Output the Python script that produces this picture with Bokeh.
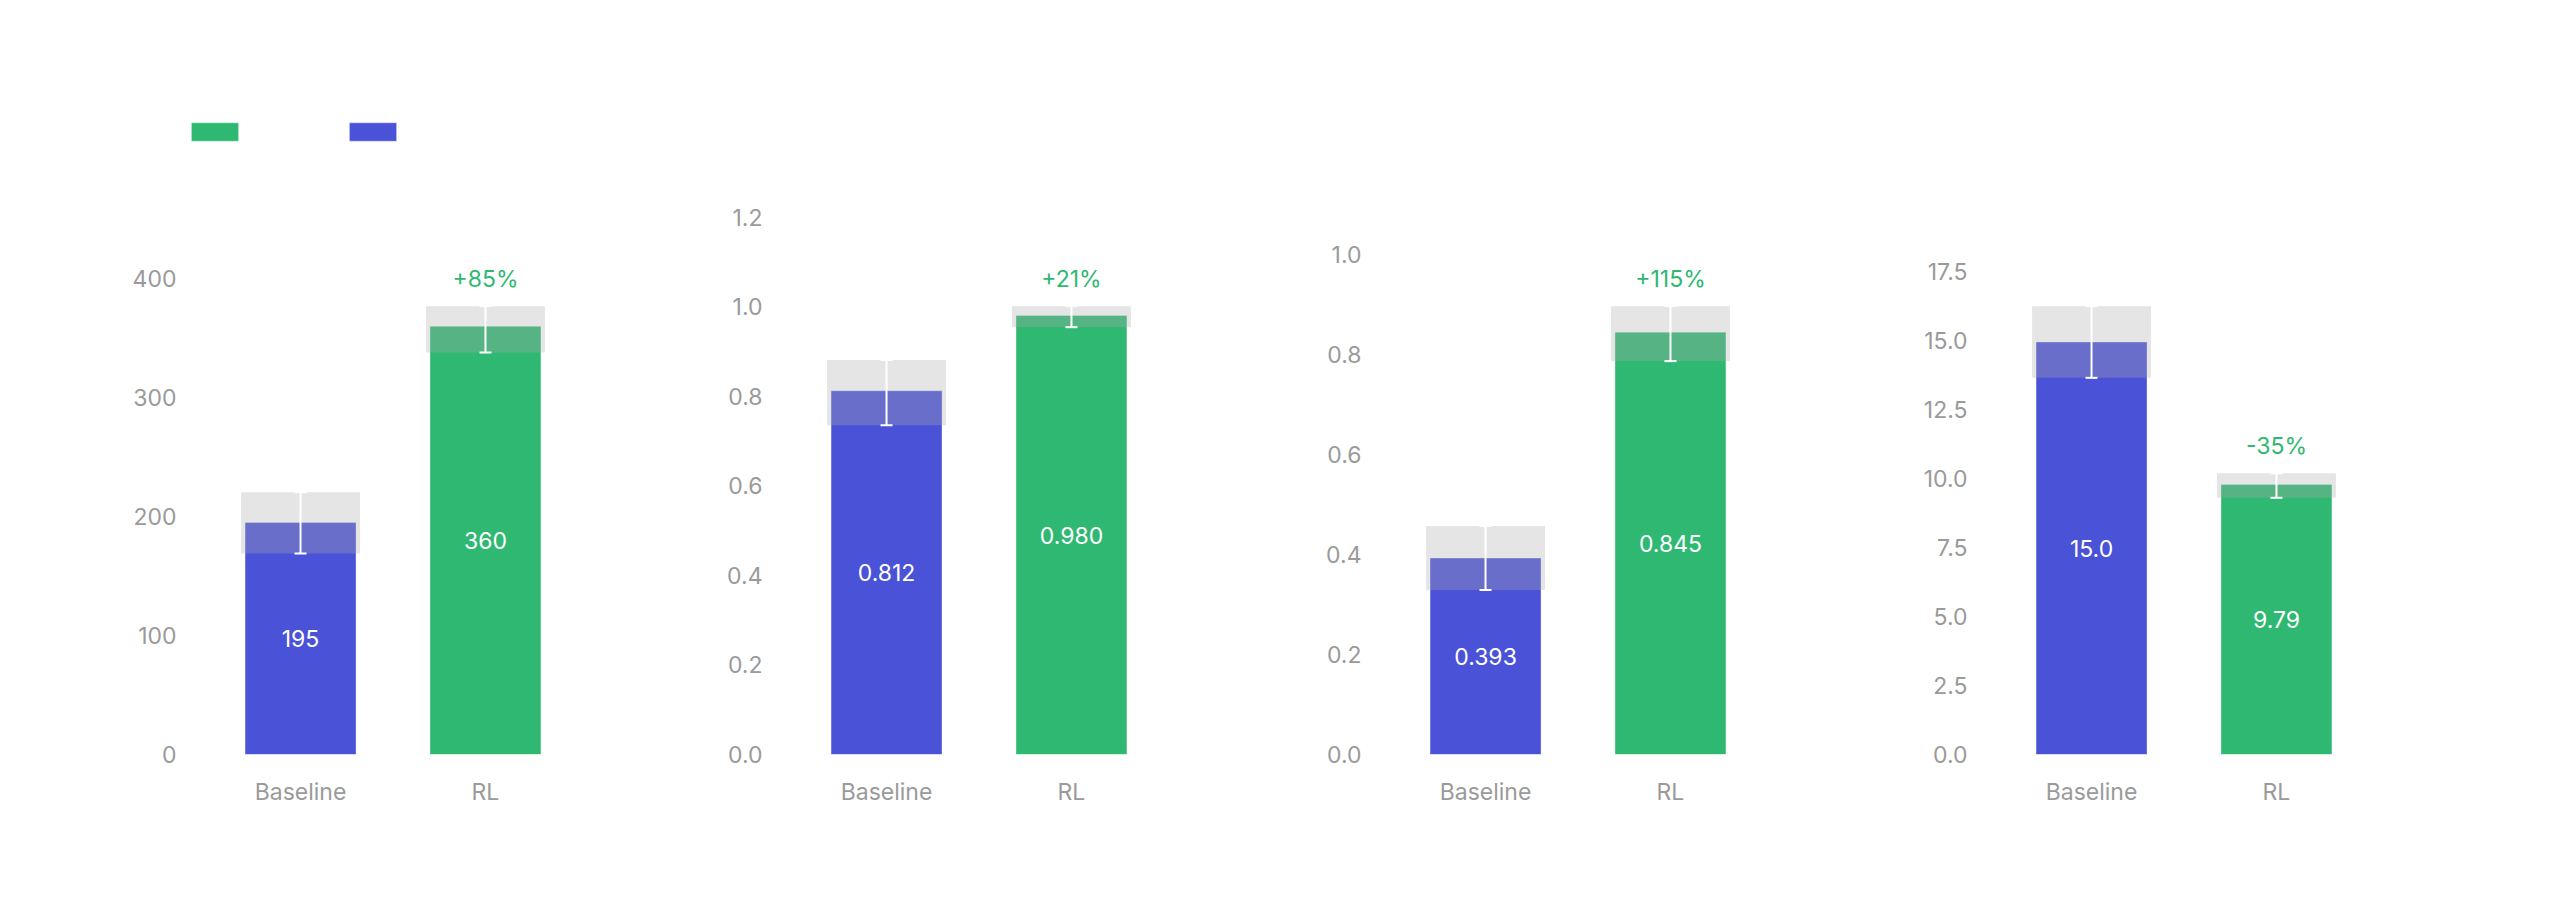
from bokeh.plotting import figure
from bokeh.models import (ColumnDataSource, FactorRange, Range1d, FixedTicker,
                          NumeralTickFormatter, Whisker, TeeHead, Legend, LegendItem)
from bokeh.layouts import row, column
from bokeh.core.properties import value
from bokeh.embed import file_html
from bokeh.resources import INLINE

# ---------------- data ----------------
categories = ["Baseline", "RL"]
bar_colors = ["#4A52D8", "#2FB872"]

p1_values = [195, 360]
p1_err_lo = [26, 22]
p1_err_hi = [25.5, 17]
p1_labels = ["195", "360"]

p2_values = [0.812, 0.980]
p2_err_lo = [0.077, 0.026]
p2_err_hi = [0.069, 0.021]
p2_labels = ["0.812", "0.980"]

p3_values = [0.393, 0.845]
p3_err_lo = [0.064, 0.058]
p3_err_hi = [0.064, 0.052]
p3_labels = ["0.393", "0.845"]

p4_values = [14.96, 9.79]
p4_err_lo = [1.3, 0.48]
p4_err_hi = [1.3, 0.41]
p4_labels = ["15.0", "9.79"]

change_labels = ["+85%", "+21%", "+115%", "-35%"]

p1_ticks = [0, 100, 200, 300, 400]
p2_ticks = [0.0, 0.2, 0.4, 0.6, 0.8, 1.0, 1.2]
p3_ticks = [0.0, 0.2, 0.4, 0.6, 0.8, 1.0]
p4_ticks = [0.0, 2.5, 5.0, 7.5, 10.0, 12.5, 15.0, 17.5]
tick_formats = ["0", "0.0", "0.0", "0.0"]

legend_order = ["RL", "Baseline"]

# ---------------- style ----------------
FONT = "Inter"
FSIZE = "23px"
GREY_TEXT = "#9a9a9a"
BAND_COLOR = "#acacac"
TOTAL_W = 2560
LEG_H = 180
FIG_H = 915 - LEG_H
TOP_B = 207 - LEG_H
BOT_B = 161
borders = [(190, 0), (181, 0), (194, 0), (201, 174)]
FRAME_W = 405
color_of = dict(zip(categories, bar_colors))

panels = [
    (p1_values, p1_err_lo, p1_err_hi, p1_labels, p1_ticks),
    (p2_values, p2_err_lo, p2_err_hi, p2_labels, p2_ticks),
    (p3_values, p3_err_lo, p3_err_hi, p3_labels, p3_ticks),
    (p4_values, p4_err_lo, p4_err_hi, p4_labels, p4_ticks),
]

# ---------------- legend strip ----------------
leg = figure(width=TOTAL_W, height=LEG_H, x_range=Range1d(0, 1), y_range=Range1d(0, 1),
             min_border=0, x_axis_location=None, y_axis_location=None,
             output_backend="svg", toolbar_location=None,
             background_fill_color="white", border_fill_color="white")
leg.outline_line_color = None
leg.grid.grid_line_color = None
items = []
for name in legend_order:
    r = leg.vbar(x=[-1], top=[-1], bottom=[-2], width=0.1, fill_color=color_of[name],
                 line_color="white", line_alpha=0.35, line_width=1)
    items.append(LegendItem(label=name, renderers=[r]))
legend = Legend(items=items, location=(185, 37), orientation="horizontal",
                glyph_width=59, glyph_height=23, label_height=23, label_width=89,
                label_standoff=0, spacing=10, padding=0, margin=0,
                border_line_color=None, background_fill_alpha=0,
                label_text_font_size="10px", label_text_color="white")
leg.add_layout(legend)

# ---------------- panels ----------------
figs = []
for i, (vals, lo, hi, labs, ticks) in enumerate(panels):
    band_top = [v + h for v, h in zip(vals, hi)]
    band_bot = [v - l for v, l in zip(vals, lo)]
    src = ColumnDataSource(dict(
        x=categories, top=vals, band_top=band_top, band_bot=band_bot,
        mid=[v / 2 for v in vals], label=labs, color=bar_colors))
    ymax = 1.22 * max(band_top)
    L, R = borders[i]
    p = figure(x_range=FactorRange(*categories, range_padding=0.095),
               y_range=Range1d(0, ymax),
               width=L + FRAME_W + R, height=FIG_H,
               min_border_left=L, min_border_right=R,
               min_border_top=TOP_B, min_border_bottom=BOT_B,
               output_backend="svg", toolbar_location=None,
               background_fill_color="white", border_fill_color="white")
    p.outline_line_color = None
    p.grid.grid_line_color = None

    p.vbar(x="x", top="top", bottom=0, width=0.6, source=src,
           fill_color="color", line_color="white", line_alpha=0.35, line_width=1)
    p.vbar(x="x", top="band_top", bottom="band_bot", width=0.643, source=src,
           fill_color=BAND_COLOR, fill_alpha=0.315, line_color=None)
    wh = Whisker(source=src, base="x", upper="band_top", lower="band_bot",
                 line_color="white", line_width=2, level="overlay",
                 upper_head=TeeHead(size=12, line_color="white", line_width=2),
                 lower_head=TeeHead(size=12, line_color="white", line_width=2))
    p.add_layout(wh)

    p.text(x="x", y="mid", text="label", source=src, text_color="white",
           text_font=value(FONT), text_font_size=FSIZE,
           text_align="center", text_baseline="middle")
    p.text(x=[categories[1]], y=[band_top[1]], text=[change_labels[i]],
           y_offset=-27, text_color="#2FB872", text_font=value(FONT),
           text_font_size=FSIZE, text_align="center", text_baseline="middle")

    p.yaxis.ticker = FixedTicker(ticks=ticks)
    p.yaxis.formatter = NumeralTickFormatter(format=tick_formats[i])
    for ax in (p.xaxis, p.yaxis):
        ax.axis_line_color = None
        ax.major_tick_line_color = None
        ax.minor_tick_line_color = None
        ax.major_tick_out = 0
        ax.major_tick_in = 0
        ax.major_label_text_color = GREY_TEXT
        ax.major_label_text_font = FONT
        ax.major_label_text_font_size = FSIZE
    p.yaxis.major_label_standoff = 14
    p.xaxis.major_label_standoff = 23
    figs.append(p)

layout = column(leg, row(*figs, spacing=0), spacing=0)
open("out.html", "w").write(file_html(layout, INLINE))
